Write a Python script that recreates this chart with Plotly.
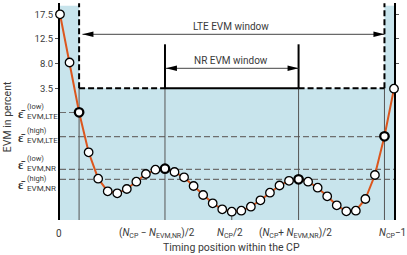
import plotly.graph_objects as go

# ---------------- data (schematic units: 1 y-unit ~ 1 px) ----------------
timing_index = list(range(36))
evm_level = [205.7, 157.5, 107.7, 67.7, 41.3, 28.7, 26.7, 31.0, 38.3, 46.0,
             50.3, 51.3, 48.0, 42.7, 34.0, 25.0, 16.7, 10.7, 8.3, 9.3,
             13.3, 19.7, 27.3, 34.5, 39.2, 40.7, 38.3, 32.3, 23.7, 14.7,
             8.7, 9.3, 21.0, 45.0, 83.7, 131.3]

N_CP = 36
N_EVM_NR = 14
N_EVM_LTE = 32

ytick_vals = [205.7, 181.5, 156.7, 131.7]
ytick_text = ["17.5", "12.5", "8.0", "3.5"]

eps_vals = [107.5, 83.3, 50.7, 40.7]
eps_sup = ["(low)", "(high)", "(low)", "(high)"]
eps_sub = ["EVM,LTE", "EVM,LTE", "EVM,NR", "EVM,NR"]
eps_label_shift = [0, 0, 5, -5]

limit_lte = 131.7
limit_out = 214.3

xtick_text = ["0",
              "(<i>N</i><sub>CP</sub> − <i>N</i><sub>EVM,NR</sub>)/2",
              "<i>N</i><sub>CP</sub>/2",
              "(<i>N</i><sub>CP</sub>+ <i>N</i><sub>EVM,NR</sub>)/2",
              "<i>N</i><sub>CP</sub>−1"]
xtick_shift = [-1, -8, -1.5, -3.5, -2]

# ---------------- derived positions ----------------
lte_start = (N_CP - N_EVM_LTE) / 2
lte_end = (N_CP + N_EVM_LTE) / 2
nr_start = (N_CP - N_EVM_NR) / 2
nr_end = (N_CP + N_EVM_NR) / 2
mid = N_CP / 2
last = N_CP - 1
xtick_vals = [0, nr_start, mid, nr_end, last]

W, H = 407, 255
ML, MR, MT, MB = 60, 13, 3, 35
PX_X = (W - ML - MR) / last

BLUE = "#c8e4ec"
ORANGE = "#dc561d"
TXT = "#3a3a3a"
FONT = "Roboto"

fig = go.Figure()
shapes = []

# shaded region under the EVM limit
shapes.append(dict(type="path", layer="below", line=dict(width=0), fillcolor=BLUE,
                   path=(f"M 0,0 L 0,{limit_out} L {lte_start},{limit_out} L {lte_start},{limit_lte} "
                         f"L {lte_end},{limit_lte} L {lte_end},{limit_out} L {last},{limit_out} "
                         f"L {last},0 Z")))

# grey dashed level lines
grid_ends = [lte_start, lte_end, last, last]
for v, xe in zip(eps_vals, grid_ends):
    shapes.append(dict(type="line", layer="below", x0=0, x1=xe, y0=v, y1=v,
                       line=dict(color="#6e6e6e", width=1.2, dash="6px,3px")))

# ticks for the epsilon levels on both axes (outside)
for v in eps_vals:
    shapes.append(dict(type="line", xsizemode="pixel", xanchor=0, x0=-4, x1=-1, y0=v, y1=v,
                       line=dict(color="#555555", width=1)))
    shapes.append(dict(type="line", xsizemode="pixel", xanchor=last, x0=1, x1=4, y0=v, y1=v,
                       line=dict(color="#555555", width=1)))

# thin vertical markers
for xv in [lte_start, lte_end, nr_start, nr_end]:
    shapes.append(dict(type="line", layer="below", x0=xv, x1=xv, y0=0, y1=limit_lte,
                       line=dict(color="#555555", width=1)))
shapes.append(dict(type="line", layer="below", x0=mid, x1=mid, y0=0, y1=evm_level[int(mid)],
                   line=dict(color="#555555", width=1)))

# EVM limit boundary
for xv in [lte_start, lte_end]:
    shapes.append(dict(type="line", x0=xv, x1=xv, y0=limit_lte, y1=216.7,
                       line=dict(color="black", width=2, dash="6px,3px")))
shapes.append(dict(type="line", x0=lte_start, x1=nr_start, y0=limit_lte, y1=limit_lte,
                   line=dict(color="black", width=2, dash="6px,3px")))
shapes.append(dict(type="line", x0=nr_end, x1=lte_end, y0=limit_lte, y1=limit_lte,
                   line=dict(color="black", width=2, dash="6px,3px")))
shapes.append(dict(type="line", x0=nr_start, x1=nr_end, y0=limit_lte, y1=limit_lte,
                   line=dict(color="black", width=2)))
for xv in [nr_start, nr_end]:
    shapes.append(dict(type="line", x0=xv, x1=xv, y0=limit_lte, y1=175.7,
                       line=dict(color="black", width=2)))


def double_arrow(x0, x1, y):
    L = 11 / PX_X
    h = 2.8
    shapes.append(dict(type="line", x0=x0, x1=x1, y0=y, y1=y,
                       line=dict(color="#444444", width=1)))
    shapes.append(dict(type="path", line=dict(width=0), fillcolor="black",
                       path=f"M {x0},{y} L {x0 + L},{y + h} L {x0 + L},{y - h} Z"))
    shapes.append(dict(type="path", line=dict(width=0), fillcolor="black",
                       path=f"M {x1},{y} L {x1 - L},{y + h} L {x1 - L},{y - h} Z"))


double_arrow(lte_start + 0.35, lte_end, 185.7)
double_arrow(nr_start + 0.1, nr_end, 151.7)

# curve
bold = {int(lte_start), int(nr_start), int(nr_end), int(lte_end)}
fig.add_trace(go.Scatter(
    x=timing_index, y=evm_level, mode="lines+markers", cliponaxis=False,
    line=dict(color=ORANGE, width=2),
    marker=dict(size=8.5, color="white",
                line=dict(color="black", width=[2.3 if i in bold else 1.3 for i in timing_index])),
    hoverinfo="skip", showlegend=False))

annotations = []
annotations.append(dict(x=mid, y=193.3, xref="x", yref="y", text="LTE EVM window", showarrow=False,
                        font=dict(family=FONT, size=10, color=TXT), xshift=-1))
annotations.append(dict(x=mid, y=159.3, xref="x", yref="y", text="NR EVM window", showarrow=False,
                        font=dict(family=FONT, size=10, color=TXT), xshift=-1))

# epsilon labels
for v, sp, sb, s in zip(eps_vals, eps_sup, eps_sub, eps_label_shift):
    annotations.append(dict(x=0, y=v, xref="x", yref="y", text="<b>ε̄</b>", showarrow=False,
                            xanchor="center", xshift=-39, yshift=s - 0.5,
                            font=dict(family=FONT, size=12.5, color=TXT)))
    annotations.append(dict(x=0, y=v, xref="x", yref="y", text=sp, showarrow=False,
                            xanchor="left", xshift=-35.5, yshift=s + 6,
                            font=dict(family=FONT, size=7.5, color=TXT)))
    annotations.append(dict(x=0, y=v, xref="x", yref="y", text=sb, showarrow=False,
                            xanchor="left", xshift=-35.5, yshift=s - 4,
                            font=dict(family=FONT, size=8, color=TXT)))

# x tick labels
for xv, t, s in zip(xtick_vals, xtick_text, xtick_shift):
    annotations.append(dict(x=xv, y=0, xref="x", yref="y", text=t, showarrow=False,
                            xshift=s, yshift=-13, font=dict(family=FONT, size=10, color=TXT)))

annotations.append(dict(x=mid, y=0, xref="x", yref="y", text="Timing position within the CP",
                        showarrow=False, yshift=-27, font=dict(family=FONT, size=10.5, color=TXT)))
annotations.append(dict(x=0, y=103.3, xref="x", yref="y", text="EVM in percent", textangle=-90,
                        showarrow=False, xshift=-52.5, font=dict(family=FONT, size=10.5, color=TXT)))

fig.update_layout(
    width=W, height=H, autosize=False,
    margin=dict(l=ML, r=MR, t=MT, b=MB),
    paper_bgcolor="white", plot_bgcolor="white",
    shapes=shapes, annotations=annotations,
    xaxis=dict(range=[0, last], showgrid=False, zeroline=False, showline=False,
               showticklabels=False, ticks=""),
    yaxis=dict(range=[0, 217], showgrid=False, zeroline=False, showline=True,
               linecolor="black", linewidth=2, mirror="allticks", ticks="outside",
               ticklen=3, tickcolor="#555555", tickwidth=1,
               tickvals=ytick_vals, ticktext=ytick_text,
               tickfont=dict(family=FONT, size=9.5, color=TXT), layer="below traces"),
)

fig.write_html("out.html", config={"displayModeBar": False},
               post_script="document.body.style.margin='0';document.body.style.overflow='hidden';")
